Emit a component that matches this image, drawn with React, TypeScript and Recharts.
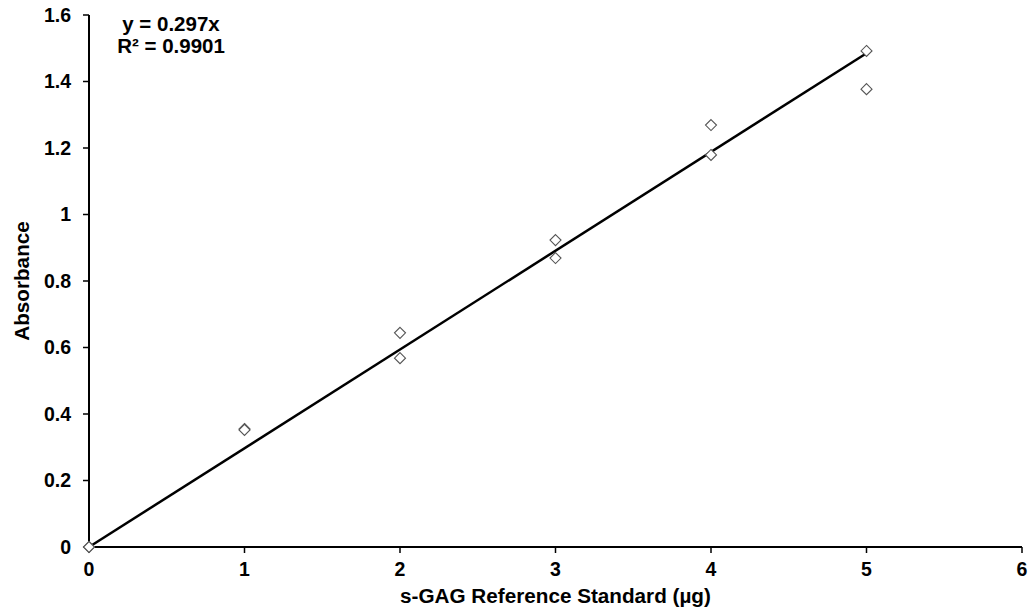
import React from "react";
import { ScatterChart, Scatter, XAxis, YAxis, Label } from "recharts";

// s-GAG standard curve: replicate absorbance readings per standard amount
const amounts = [0, 0, 1, 1, 2, 2, 3, 3, 4, 4, 5, 5];
const absorbance = [0, 0, 0.355, 0.352, 0.644, 0.568, 0.923, 0.869, 1.269, 1.179, 1.492, 1.377];

const xTicks = [0, 1, 2, 3, 4, 5, 6];
const yTicks = [0, 0.2, 0.4, 0.6, 0.8, 1, 1.2, 1.4, 1.6];

// Linear fit through the origin
const slope = 0.297;
const rSquared = 0.9901;
const fitRange = [0, 5];

const points = amounts.map((x, i) => ({ x, y: absorbance[i] }));
const fitLine = fitRange.map((x) => ({ x, y: slope * x }));

const FONT = "'Liberation Sans', Arial, sans-serif";
const TICK_SIZE = 19.5;
const TITLE_SIZE = 20.7;

const Diamond = (props: any) => {
  const { cx, cy } = props;
  if (cx == null || cy == null) return null;
  const r = 5.5;
  return (
    <polygon
      points={`${cx},${cy - r} ${cx + r},${cy} ${cx},${cy + r} ${cx - r},${cy}`}
      fill="#ffffff"
      stroke="#555555"
      strokeWidth={1.1}
    />
  );
};

const NoDot = () => null;

const YTitle = (props: any) => {
  const { viewBox } = props;
  const cx = 21;
  const cy = viewBox.y + viewBox.height / 2;
  return (
    <text
      x={cx}
      y={cy}
      transform={`rotate(-90, ${cx}, ${cy})`}
      textAnchor="middle"
      dominantBaseline="central"
      fontFamily={FONT}
      fontWeight="bold"
      fontSize={TITLE_SIZE}
      fill="#000"
    >
      Absorbance
    </text>
  );
};

export default function App() {
  return (
    <div style={{ position: "absolute", left: 0, top: 0, width: 1030, height: 614, background: "#fff" }}>
      <ScatterChart
        width={1030}
        height={614}
        margin={{ top: 15, right: 8, bottom: 7, left: 0 }}
      >
        <XAxis
          type="number"
          dataKey="x"
          domain={[0, 6]}
          ticks={xTicks}
          interval={0}
          height={60}
          axisLine={{ stroke: "#000", strokeWidth: 2 }}
          tickLine={{ stroke: "#000", strokeWidth: 1.5 }}
          tickSize={6}
          tickMargin={9}
          tick={{ fill: "#000", fontFamily: FONT, fontWeight: "bold", fontSize: TICK_SIZE }}
        >
          <Label
            value="s-GAG Reference Standard (µg)"
            position="insideBottom"
            offset={4}
            style={{ fill: "#000", fontFamily: FONT, fontWeight: "bold", fontSize: TITLE_SIZE }}
          />
        </XAxis>
        <YAxis
          type="number"
          dataKey="y"
          domain={[0, 1.6]}
          ticks={yTicks}
          interval={0}
          width={89}
          axisLine={{ stroke: "#000", strokeWidth: 2 }}
          tickLine={{ stroke: "#000", strokeWidth: 1.5 }}
          tickSize={6}
          tickMargin={12}
          tick={{ fill: "#000", fontFamily: FONT, fontWeight: "bold", fontSize: TICK_SIZE }}
        >
          <Label content={<YTitle />} />
        </YAxis>
        <Scatter
          data={fitLine}
          dataKey="y"
          line={{ stroke: "#000", strokeWidth: 2.5 }}
          shape={<NoDot />}
          isAnimationActive={false}
        />
        <Scatter data={points} dataKey="y" shape={<Diamond />} isAnimationActive={false} />
      </ScatterChart>
      <div
        style={{
          position: "absolute",
          left: 171,
          top: 13,
          transform: "translateX(-50%)",
          fontFamily: FONT,
          fontWeight: "bold",
          fontSize: 20.5,
          lineHeight: "22px",
          textAlign: "center",
          color: "#000",
          whiteSpace: "nowrap",
        }}
      >
        <div>y = {slope}x</div>
        <div>R² = {rSquared}</div>
      </div>
    </div>
  );
}
